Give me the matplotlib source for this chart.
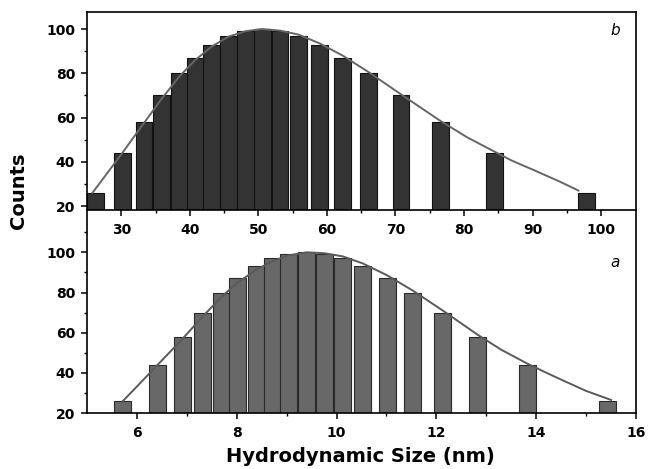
import matplotlib
matplotlib.use('Agg')
import matplotlib.pyplot as plt

# bar heights (same for both panels)
counts = [26, 44, 58, 70, 80, 87, 93, 97, 99, 100, 99, 97, 93, 87, 80, 70, 58, 44, 26]

# panel b: bar centres (nm)
size_b = [26.2, 30.15, 33.3, 35.9, 38.45, 40.8, 43.15, 45.6, 48.1, 50.55,
          53.15, 55.85, 58.95, 62.3, 66.1, 70.8, 76.55, 84.5, 97.9]
# panel a: bar centres (nm)
size_a = [5.71, 6.415, 6.915, 7.315, 7.70, 8.02, 8.40, 8.71, 9.03, 9.405,
          9.75, 10.125, 10.525, 11.02, 11.525, 12.13, 12.825, 13.83, 15.435]

# fitted curves
fit_b_x = [25.8, 27.5, 30.15, 33.3, 35.9, 38.45, 40.8, 43.15, 45.6, 48.1, 50.5,
           53.15, 55.85, 58.95, 62.3, 66.1, 70.8, 76.55, 80.5, 84.5, 87.0, 90.0, 94.0, 96.7]
fit_b_y = [26, 33, 44, 57.5, 68.5, 78.5, 86, 92, 96.5, 99, 100,
           99.3, 97.5, 93.5, 88, 80.5, 70.5, 58.5, 51, 44.5, 40.5, 36.5, 31, 27]
fit_a_x = [5.72, 6.05, 6.415, 6.915, 7.315, 7.70, 8.02, 8.40, 8.71, 9.03, 9.4,
           9.75, 10.125, 10.525, 11.02, 11.525, 12.13, 12.825, 13.3, 13.83, 14.25, 14.6, 15.0, 15.5]
fit_a_y = [26, 34.5, 44, 57, 68, 78, 85, 91.5, 95.5, 98.5, 100,
           99.6, 98, 94.5, 88.5, 81, 71, 59, 51.5, 44.5, 39.5, 35.5, 31, 26.5]

plt.rcParams['font.family'] = 'DejaVu Sans'
plt.rcParams['font.weight'] = 'bold'

fig = plt.figure(figsize=(6.48, 4.69), dpi=100)
# lower panel first so the upper panel's tick labels sit on top of it
ax_a = fig.add_axes([0.1343, 0.1194, 0.8472, 0.4328])
ax_b = fig.add_axes([0.1343, 0.5522, 0.8472, 0.4222])
ax_a.patch.set_visible(False)

ax_b.bar(size_b, counts, width=2.45, color='#333333', edgecolor='#111111', linewidth=0.8, zorder=2)
ax_b.plot(fit_b_x, fit_b_y, color='#666666', linewidth=1.4, zorder=3)
ax_a.bar(size_a, counts, width=0.34, color='#686868', edgecolor='#2a2a2a', linewidth=0.8, zorder=2)
ax_a.plot(fit_a_x, fit_a_y, color='#5a5a5a', linewidth=1.4, zorder=3)

ax_b.set_xlim(25, 105.1)
ax_b.set_ylim(18.2, 107.7)
ax_a.set_xlim(5, 16)
ax_a.set_ylim(20, 121.1)

ax_b.set_xticks([30, 40, 50, 60, 70, 80, 90, 100])
ax_b.set_xticks([35, 45, 55, 65, 75, 85, 95], minor=True)
ax_a.set_xticks([6, 8, 10, 12, 14, 16])
ax_a.set_xticks([7, 9, 11, 13, 15], minor=True)
ax_b.set_yticks([20, 40, 60, 80, 100])
ax_b.set_yticks([30, 50, 70, 90], minor=True)
ax_a.set_yticks([20, 40, 60, 80, 100])
ax_a.set_yticks([30, 50, 70, 90, 110], minor=True)

for ax in (ax_b, ax_a):
    for s in ax.spines.values():
        s.set_linewidth(1.2)
    ax.tick_params(which='major', direction='out', length=4.5, width=1.1, labelsize=10, pad=4)
    ax.tick_params(which='minor', direction='out', length=2.5, width=1.0)
    ax.tick_params(axis='x', which='major', pad=5)
    for lab in ax.get_xticklabels() + ax.get_yticklabels():
        lab.set_fontweight('bold')
ax_a.spines['top'].set_visible(False)

ax_b.text(0.962, 0.909, 'b', transform=ax_b.transAxes, fontsize=11, style='italic',
          fontweight='normal', ha='center', va='center')
ax_a.text(0.962, 0.739, 'a', transform=ax_a.transAxes, fontsize=11, style='italic',
          fontweight='normal', ha='center', va='center')

fig.text(0.029, 0.593, 'Counts', rotation=90, fontsize=14, fontweight='bold', ha='center', va='center')
fig.text(0.556, 0.0149, 'Hydrodynamic Size (nm)', fontsize=14, fontweight='bold', ha='center', va='baseline')

fig.savefig('out.png', dpi=100)
